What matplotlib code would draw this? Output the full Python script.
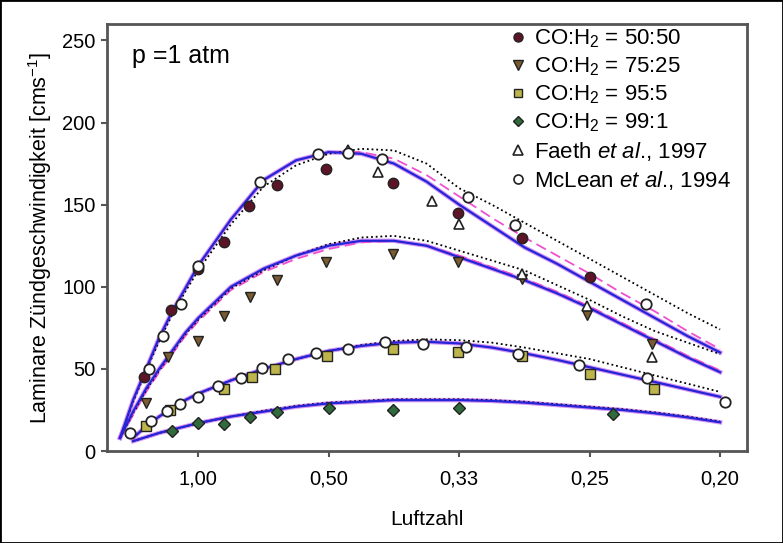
import matplotlib
matplotlib.use("Agg")
import matplotlib.pyplot as plt
from matplotlib.lines import Line2D
from matplotlib.patches import Rectangle

# ---------------------------------------------------------
# Data, x = equivalence ratio phi = 1 / Luftzahl
# ---------------------------------------------------------
tick_pos = [1, 2, 3, 4, 5]
tick_labels = ["1,00", "0,50", "0,33", "0,25", "0,20"]

# measured points
phi_5050 = [0.58, 0.79, 1.0, 1.2, 1.39, 1.6, 1.98, 2.49, 2.99, 3.48, 4.0]
v_5050 = [45, 86, 111, 127, 149, 162, 172, 163, 145, 130, 106]

phi_7525 = [0.6, 0.77, 1.0, 1.2, 1.4, 1.6, 1.98, 2.49, 2.99, 3.48, 3.98, 4.48]
v_7525 = [29, 57, 67, 82, 94, 104, 115, 120, 115, 105, 83, 65]

phi_955 = [0.6, 0.78, 1.2, 1.41, 1.59, 1.99, 2.49, 2.99, 3.48, 4.0, 4.49]
v_955 = [15, 25, 38, 45, 50, 58, 62, 60, 58, 47, 38]

phi_991 = [0.8, 1.0, 1.2, 1.4, 1.6, 2.0, 2.49, 3.0, 4.18]
v_991 = [12, 17, 16.5, 20.5, 24, 26, 25, 26, 22.6]

phi_faeth = [2.15, 2.38, 2.79, 3.0, 3.48, 3.98, 4.48]
v_faeth = [183, 170, 152, 138, 108, 88, 57]

phi_mclean = [0.62, 0.73, 0.87, 1.0, 1.47, 1.92, 2.15, 2.41, 3.07, 3.43, 4.43,
              0.48, 0.64, 0.76, 0.86, 1.0, 1.15, 1.33, 1.49, 1.69, 1.9, 2.15,
              2.43, 2.72, 3.05, 3.45, 3.92, 4.44, 5.04]
v_mclean = [50, 70, 89.5, 112.6, 163.5, 181, 181.3, 177.6, 154.5, 137.7, 89.5,
            11, 18, 24.4, 28.7, 33, 39.6, 44.7, 50.4, 55.9, 59.6, 62,
            66.6, 65, 63.6, 59, 52.4, 44.3, 30]

# model curves
phi_hi = [0.4, 0.5, 0.6, 0.7, 0.8, 0.9, 1.0, 1.25, 1.5, 1.75, 2.0, 2.25,
          2.5, 2.75, 3.0, 3.25, 3.5, 3.75, 4.0, 4.25, 4.5, 4.75, 5.0]
phi_lo = [0.5, 0.6, 0.7, 0.8, 0.9, 1.0, 1.25, 1.5, 1.75, 2.0, 2.25,
          2.5, 2.75, 3.0, 3.25, 3.5, 3.75, 4.0, 4.25, 4.5, 4.75, 5.0]

c5050_solid = [8, 31, 50, 69, 85, 99, 113, 141, 165, 177, 182, 181,
               175, 164, 150, 137, 124, 114, 103, 92, 81, 70, 60]
c5050_dash = [8, 31, 50, 69, 85, 99, 113, 141, 165, 177, 182, 182,
              178, 168, 155, 142, 130, 119, 108, 96, 85, 73, 62]
c5050_dot = [8, 30, 49, 67, 83, 97, 110, 138, 161, 174, 181, 184,
             183, 175, 160, 150, 139, 128, 117, 106, 95, 84, 74]

c7525_solid = [8, 24, 38, 50, 61, 72, 81, 100, 111, 119, 125, 128,
               128, 125, 118, 111, 104, 96, 87, 77, 67, 57, 48]
c7525_dash = [8, 22, 36, 48, 59, 70, 79, 98, 109, 117, 123, 127,
              128, 125, 119, 112, 105, 97, 88, 78, 68, 58, 49]
c7525_dot = [8, 23, 37, 49, 60, 71, 80, 99, 110, 119, 126, 130,
             131, 128, 122, 116, 110, 101, 92, 82, 73, 66, 59]

c955_solid = [8, 15, 21, 26, 31, 35, 43, 50, 56, 61, 64,
              66, 66.5, 65.5, 63, 59.5, 55.5, 51, 46.5, 42, 37.5, 33]
c955_dot = [8, 15, 21, 26, 31, 35, 43, 50, 56, 61, 64.5,
            67, 68, 67.5, 66, 63, 59.5, 56, 51, 46, 41, 36]

c991_solid = [6, 8.5, 11, 13, 15, 17, 21, 24, 27, 29, 30,
              31, 31, 31, 30.5, 29.5, 28, 26.5, 25, 23, 20.5, 17.5]
c991_dot = [6, 8.5, 11, 13, 15, 17, 21, 24.5, 27.5, 29.5, 30.5,
            31.5, 31.5, 31.5, 31, 30, 28.5, 27, 25.5, 23.5, 21, 18]

# ---------------------------------------------------------
# Plot
# ---------------------------------------------------------
plt.rcParams["font.family"] = ["Liberation Sans", "DejaVu Sans"]
plt.rcParams["mathtext.fontset"] = "custom"
plt.rcParams["mathtext.rm"] = "Liberation Sans"
plt.rcParams["mathtext.it"] = "Liberation Sans:italic"

fig = plt.figure(figsize=(7.83, 5.43), dpi=100)
ax = fig.add_axes([0.1363, 0.1694, 0.8177, 0.7864])

blue = "#2424d8"
violet = "#b040e8"
pink = "#f050d0"

groups = [
    (phi_hi, c5050_solid, c5050_dash, c5050_dot),
    (phi_hi, c7525_solid, c7525_dash, c7525_dot),
    (phi_lo, c955_solid, c955_solid, c955_dot),
    (phi_lo, c991_solid, c991_solid, c991_dot),
]
for xs, solid, dash, dot in groups:
    ax.plot(xs, solid, color=violet, lw=3.2, alpha=0.55, zorder=2)
    ax.plot(xs, dash, color=pink, lw=1.3, ls=(0, (6, 3)), zorder=3)
    ax.plot(xs, dot, color="black", lw=1.3, ls=(0, (1, 1.6)), zorder=3)
    ax.plot(xs, solid, color=blue, lw=1.6, zorder=4)

ms = 7.5
ax.plot(phi_5050, v_5050, "o", ms=ms, mfc="#5c1426", mec="#222", mew=1, zorder=5)
ax.plot(phi_7525, v_7525, "v", ms=ms, mfc="#7a5a30", mec="#222", mew=1, zorder=5)
ax.plot(phi_955, v_955, "s", ms=ms - 0.5, mfc="#bdb54c", mec="#222", mew=1, zorder=5)
ax.plot(phi_991, v_991, "D", ms=ms - 1, mfc="#2f6b3c", mec="#222", mew=1, zorder=5)
ax.plot(phi_faeth, v_faeth, "^", ms=ms, mfc="white", mec="#222", mew=1.2, zorder=6)
ax.plot(phi_mclean, v_mclean, "o", ms=ms, mfc="white", mec="#222", mew=1.3, zorder=6)

ax.set_xlim(0.298, 5.206)
ax.set_ylim(0, 260)
ax.set_xticks(tick_pos)
ax.set_xticklabels(tick_labels)
ax.set_yticks([0, 50, 100, 150, 200, 250])

for s in ax.spines.values():
    s.set_color("#555555")
    s.set_linewidth(2)
ax.tick_params(direction="out", length=4, width=1.5, color="#555555",
               labelsize=14.5, pad=4)
ax.tick_params(axis="x", pad=9)

ax.set_xlabel("Luftzahl", fontsize=15, labelpad=16)
ax.set_ylabel("Laminare Zündgeschwindigkeit [cms$^{-1}$]", fontsize=15.5, labelpad=6)

ax.text(0.04, 0.925, "p =1 atm", transform=ax.transAxes, fontsize=18,
        va="center", ha="left")

handles = [
    Line2D([], [], ls="", marker="o", ms=6.5, mfc="#5c1426", mec="#222"),
    Line2D([], [], ls="", marker="v", ms=6.5, mfc="#7a5a30", mec="#222"),
    Line2D([], [], ls="", marker="s", ms=6, mfc="#bdb54c", mec="#222"),
    Line2D([], [], ls="", marker="D", ms=5.5, mfc="#2f6b3c", mec="#222"),
    Line2D([], [], ls="", marker="^", ms=6.5, mfc="white", mec="#222", mew=1.2),
    Line2D([], [], ls="", marker="o", ms=6.5, mfc="white", mec="#222", mew=1.2),
]
labels = [
    "CO:H$_2$ = 50:50",
    "CO:H$_2$ = 75:25",
    "CO:H$_2$ = 95:5",
    "CO:H$_2$ = 99:1",
    "Faeth $et$ $al$., 1997",
    "McLean $et$ $al$., 1994",
]
ax.legend(handles, labels, loc="upper left", bbox_to_anchor=(0.625, 1.0),
          frameon=False, fontsize=16, handlelength=0.7, handletextpad=0.35,
          labelspacing=0.25, borderpad=0.15, borderaxespad=0)

fig.patches.append(Rectangle((0, 0), 1, 1, transform=fig.transFigure,
                             fill=False, ec="black", lw=2))

fig.savefig("out.png", dpi=100)
